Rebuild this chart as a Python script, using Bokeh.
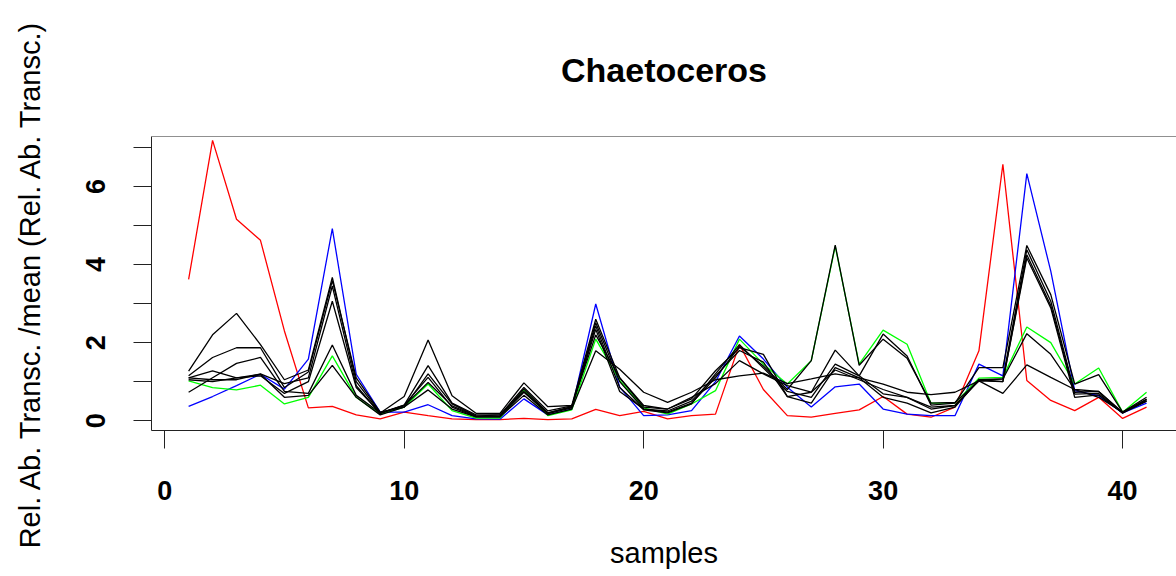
from bokeh.plotting import figure
from bokeh.models import Range1d, FixedTicker, Span
from bokeh.embed import file_html
from bokeh.resources import INLINE

samples = list(range(1, 42))

red = [3.62, 7.18, 5.16, 4.62, 2.30, 0.33, 0.37, 0.15, 0.05, 0.22,
       0.13, 0.05, 0.03, 0.03, 0.06, 0.03, 0.05, 0.29, 0.13, 0.24,
       0.05, 0.13, 0.17, 1.95, 0.80, 0.13, 0.09, 0.19, 0.28, 0.62,
       0.17, 0.09, 0.35, 1.79, 6.57, 1.03, 0.52, 0.26, 0.60, 0.06,
       0.35]
blue = [0.37, 0.62, 0.90, 1.19, 0.81, 1.58, 4.92, 1.19, 0.22, 0.22,
        0.41, 0.13, 0.05, 0.04, 0.56, 0.15, 0.30, 2.99, 0.86, 0.13,
        0.15, 0.26, 1.00, 2.17, 1.58, 0.86, 0.35, 0.87, 0.94, 0.30,
        0.17, 0.13, 0.13, 1.45, 1.15, 6.33, 3.83, 0.77, 0.64, 0.20,
        0.45]
green = [1.02, 0.85, 0.79, 0.91, 0.43, 0.60, 1.66, 0.60, 0.17, 0.35,
         0.94, 0.26, 0.07, 0.07, 0.79, 0.13, 0.28, 2.09, 1.03, 0.33,
         0.17, 0.43, 0.77, 2.09, 1.45, 0.94, 1.54, 4.47, 1.45, 2.32,
         1.96, 0.45, 0.45, 1.09, 1.11, 2.40, 2.00, 0.94, 1.35, 0.22,
         0.73]
black1 = [1.27, 2.20, 2.75, 1.95, 1.05, 1.30, 3.67, 1.00, 0.20, 0.62,
          2.07, 0.64, 0.19, 0.19, 0.97, 0.36, 0.39, 2.60, 1.10, 0.39,
          0.30, 0.56, 1.28, 1.87, 1.70, 0.62, 0.73, 1.81, 1.15, 2.22,
          1.66, 0.40, 0.45, 1.36, 1.36, 4.49, 3.23, 0.94, 1.18, 0.22,
          0.60]
black2 = [1.15, 1.62, 1.87, 1.87, 0.85, 1.25, 3.59, 1.10, 0.22, 0.35,
          1.20, 0.43, 0.12, 0.12, 0.81, 0.20, 0.35, 2.51, 1.00, 0.30,
          0.22, 0.45, 1.10, 1.90, 1.40, 0.80, 1.54, 4.50, 1.42, 2.09,
          1.60, 0.45, 0.47, 1.02, 1.07, 4.38, 3.06, 0.73, 0.75, 0.20,
          0.52]
black3 = [1.10, 1.05, 1.05, 1.20, 0.95, 1.10, 3.45, 0.90, 0.18, 0.40,
          1.11, 0.35, 0.10, 0.10, 0.73, 0.18, 0.33, 2.43, 0.85, 0.28,
          0.20, 0.43, 1.20, 1.95, 1.35, 0.75, 0.60, 1.45, 1.15, 0.69,
          0.60, 0.30, 0.39, 1.02, 1.00, 4.25, 2.95, 0.68, 0.70, 0.20,
          0.55]
black4 = [1.05, 1.00, 1.10, 1.15, 0.70, 1.00, 3.06, 0.85, 0.20, 0.38,
          0.98, 0.38, 0.12, 0.15, 0.75, 0.20, 0.36, 2.34, 0.75, 0.30,
          0.25, 0.50, 1.15, 1.80, 1.50, 0.62, 0.45, 1.36, 1.10, 0.60,
          0.45, 0.20, 0.35, 1.05, 1.00, 4.17, 2.89, 0.60, 0.66, 0.20,
          0.50]
black5 = [0.73, 1.10, 1.47, 1.62, 0.75, 0.70, 1.94, 0.65, 0.20, 0.40,
          1.41, 0.45, 0.15, 0.15, 0.85, 0.25, 0.38, 2.20, 1.10, 0.35,
          0.30, 0.60, 0.95, 1.54, 1.20, 0.90, 0.73, 1.30, 1.05, 0.80,
          0.60, 0.35, 0.39, 1.05, 1.07, 2.23, 1.70, 0.80, 0.75, 0.22,
          0.55]
black6 = [1.10, 1.28, 1.10, 1.19, 0.60, 0.65, 1.42, 0.60, 0.15, 0.35,
          0.79, 0.30, 0.10, 0.10, 0.65, 0.15, 0.30, 1.79, 1.32, 0.73,
          0.47, 0.73, 1.05, 1.15, 1.22, 0.95, 1.07, 1.20, 1.10, 0.94,
          0.73, 0.67, 0.73, 1.02, 0.70, 1.43, 1.11, 0.80, 0.60, 0.22,
          0.50]

x_ticks = [0, 10, 20, 30, 40]
y_ticks = [0, 1, 2, 3, 4, 5, 6, 7]
y_tick_labels = {0: "0", 1: "", 2: "2", 3: "", 4: "4", 5: "", 6: "6", 7: ""}

FONT = "Liberation Sans"

p = figure(width=1176, height=576, output_backend="svg", toolbar_location=None,
           x_range=Range1d(-0.55, 42.25), y_range=Range1d(-0.25, 7.28),
           min_border_left=151, min_border_right=0, min_border_top=134,
           min_border_bottom=146)
p.outline_line_color = None
p.grid.visible = False
p.background_fill_color = "white"
p.border_fill_color = "white"

p.title.text = "Chaetoceros"
p.title.align = "center"
p.title.offset = 4
p.title.standoff = 96
p.title.text_line_height = 0.6
p.title.text_font = FONT
p.title.text_font_size = "34px"
p.title.text_font_style = "bold"
p.title.text_color = "black"

for ax in (p.xaxis[0], p.yaxis[0]):
    ax.major_tick_out = 18
    ax.major_tick_in = 0
    ax.minor_tick_out = 0
    ax.minor_tick_in = 0
    ax.axis_line_color = "#222222"
    ax.major_tick_line_color = "#222222"
    ax.major_label_text_font = FONT
    ax.major_label_text_font_size = "27px"
    ax.major_label_text_font_style = "bold"
    ax.major_label_text_color = "black"
    ax.axis_label_text_font = FONT
    ax.axis_label_text_font_size = "29px"
    ax.axis_label_text_font_style = "normal"
    ax.axis_label_text_color = "black"

p.xaxis.ticker = FixedTicker(ticks=x_ticks)
p.yaxis.ticker = FixedTicker(ticks=y_ticks)
p.yaxis.major_label_overrides = y_tick_labels
p.yaxis.major_label_orientation = "vertical"
p.xaxis.axis_label = "samples"
p.yaxis.axis_label = "Rel. Ab. Transc. /mean (Rel. Ab. Transc.)"
p.xaxis.major_label_standoff = 32
p.xaxis.axis_label_standoff = 34
p.yaxis.major_label_standoff = 28
p.yaxis.axis_label_standoff = 38

p.add_layout(Span(location=7.28, dimension="width", line_color="#222222", line_width=1))

for ys, col in ((red, "#FF0000"), (blue, "#0000FF"), (green, "#00FF00")):
    p.line(samples, ys, line_color=col, line_width=1.3)
for ys in (black1, black2, black3, black4, black5, black6):
    p.line(samples, ys, line_color="black", line_width=1.3)

open("out.html", "w").write(file_html(p, INLINE))
